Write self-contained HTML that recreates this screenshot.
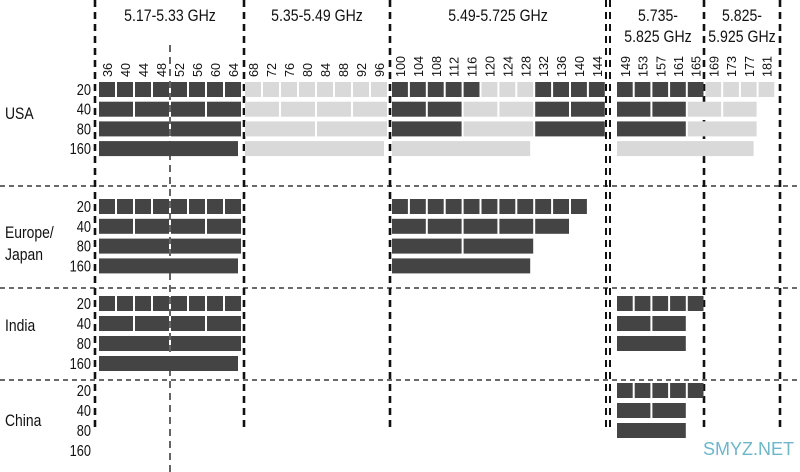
<!DOCTYPE html>
<html><head><meta charset="utf-8">
<style>
html,body{margin:0;padding:0;background:#fff;}
svg{display:block;font-family:"Liberation Sans",sans-serif;}
</style></head>
<body>
<svg id="chart" width="800" height="472" viewBox="0 0 800 472" xmlns="http://www.w3.org/2000/svg">
<g id="grid"></g>
<g id="titles" font-size="17" fill="#111" text-anchor="middle">
<g transform="translate(170,21) scale(0.83,1)"><text x="0" y="0">5.17-5.33 GHz</text></g>
<g transform="translate(317,21) scale(0.83,1)"><text x="0" y="0">5.35-5.49 GHz</text></g>
<g transform="translate(498,21) scale(0.83,1)"><text x="0" y="0">5.49-5.725 GHz</text></g>
<g transform="translate(658,21) scale(0.83,1)"><text x="0" y="0"><tspan x="0">5.735-</tspan><tspan x="0" dy="21">5.825 GHz</tspan></text></g>
<g transform="translate(742,21) scale(0.83,1)"><text x="0" y="0"><tspan x="0">5.825-</tspan><tspan x="0" dy="21">5.925 GHz</tspan></text></g>
</g>
<g id="chlabels"></g>
<g id="rows"></g>
<g id="cells"></g>
<text x="703" y="455" font-size="18" fill="#6fb6c9">SMYZ.NET</text>
</svg>
<script>
const channels=[36,40,44,48,52,56,60,64,68,72,76,80,84,88,92,96,100,104,108,112,116,120,124,128,132,136,140,144,149,153,157,161,165,169,173,177,181];
const regions=["USA","Europe/Japan","India","China"];
const widths=[20,40,80,160];
// blocks: [region, width, startChannel, numberOf20MHzChannels, licensed(1=dark,0=light)]
const blocksUSA=[
[0,20,36,1,1],[0,20,40,1,1],[0,20,44,1,1],[0,20,48,1,1],[0,20,52,1,1],[0,20,56,1,1],[0,20,60,1,1],[0,20,64,1,1],
[0,20,68,1,0],[0,20,72,1,0],[0,20,76,1,0],[0,20,80,1,0],[0,20,84,1,0],[0,20,88,1,0],[0,20,92,1,0],[0,20,96,1,0],
[0,20,100,1,1],[0,20,104,1,1],[0,20,108,1,1],[0,20,112,1,1],[0,20,116,1,1],[0,20,120,1,0],[0,20,124,1,0],[0,20,128,1,0],
[0,20,132,1,1],[0,20,136,1,1],[0,20,140,1,1],[0,20,144,1,1],
[0,20,149,1,1],[0,20,153,1,1],[0,20,157,1,1],[0,20,161,1,1],[0,20,165,1,1],[0,20,169,1,0],[0,20,173,1,0],[0,20,177,1,0],[0,20,181,1,0],
[0,40,36,2,1],[0,40,44,2,1],[0,40,52,2,1],[0,40,60,2,1],[0,40,68,2,0],[0,40,76,2,0],[0,40,84,2,0],[0,40,92,2,0],
[0,40,100,2,1],[0,40,108,2,1],[0,40,116,2,0],[0,40,124,2,0],[0,40,132,2,1],[0,40,140,2,1],[0,40,149,2,1],[0,40,157,2,1],[0,40,165,2,0],[0,40,173,2,0],
[0,80,36,4,1],[0,80,52,4,1],[0,80,68,4,0],[0,80,84,4,0],[0,80,100,4,1],[0,80,116,4,0],[0,80,132,4,1],[0,80,149,4,1],[0,80,165,4,0],
[0,160,36,8,1],[0,160,68,8,0],[0,160,100,8,0],[0,160,149,8,0]];
const blocksEU=[
[1,20,36,1,1],[1,20,40,1,1],[1,20,44,1,1],[1,20,48,1,1],[1,20,52,1,1],[1,20,56,1,1],[1,20,60,1,1],[1,20,64,1,1],
[1,20,100,1,1],[1,20,104,1,1],[1,20,108,1,1],[1,20,112,1,1],[1,20,116,1,1],[1,20,120,1,1],[1,20,124,1,1],[1,20,128,1,1],[1,20,132,1,1],[1,20,136,1,1],[1,20,140,1,1],
[1,40,36,2,1],[1,40,44,2,1],[1,40,52,2,1],[1,40,60,2,1],[1,40,100,2,1],[1,40,108,2,1],[1,40,116,2,1],[1,40,124,2,1],[1,40,132,2,1],
[1,80,36,4,1],[1,80,52,4,1],[1,80,100,4,1],[1,80,116,4,1],
[1,160,36,8,1],[1,160,100,8,1]];
const blocksIndia=[
[2,20,36,1,1],[2,20,40,1,1],[2,20,44,1,1],[2,20,48,1,1],[2,20,52,1,1],[2,20,56,1,1],[2,20,60,1,1],[2,20,64,1,1],
[2,20,149,1,1],[2,20,153,1,1],[2,20,157,1,1],[2,20,161,1,1],[2,20,165,1,1],
[2,40,36,2,1],[2,40,44,2,1],[2,40,52,2,1],[2,40,60,2,1],[2,40,149,2,1],[2,40,157,2,1],
[2,80,36,4,1],[2,80,52,4,1],[2,80,149,4,1],
[2,160,36,8,1]];
const blocksChina=[
[3,20,149,1,1],[3,20,153,1,1],[3,20,157,1,1],[3,20,161,1,1],[3,20,165,1,1],
[3,40,149,2,1],[3,40,157,2,1],[3,80,149,4,1]];

const NS="http://www.w3.org/2000/svg";
function mk(tag,attrs,parent){const e=document.createElementNS(NS,tag);for(const k in attrs)e.setAttribute(k,attrs[k]);parent.appendChild(e);return e;}
function chX(ch){
  if(ch<=64) return 99+(ch-36)/4*18;
  if(ch<=96) return 245+(ch-68)/4*18;
  if(ch<=144) return 392+(ch-100)/4*17.9;
  return 617+(ch-149)/4*17.7;
}
function pitch(ch){return ch<=96?18:(ch<=144?17.9:17.7);}
const regionTop=[82,199,296,383];
const rowPitch=[19.7,19.8,20,20];
function rowY(r,w){return regionTop[r]+widths.indexOf(w)*rowPitch[r];}

const grid=document.getElementById('grid');
[186,288,380].forEach(y=>{
  const l=mk('line',{x1:0,x2:800,y1:y,y2:y,stroke:'#111','stroke-width':1.3,'stroke-dasharray':'5 4'},grid);
  
  
});
[95,244,390,606,610,704,780].forEach(x=>{
  const l=mk('line',{x1:x,x2:x,y1:0,y2:428,stroke:'#111','stroke-width':(x==606||x==610)?2:2.6,'stroke-dasharray':'7 5'},grid);
  
  
});
const mid=mk('line',{x1:170,x2:170,y1:45,y2:472,stroke:'#111','stroke-width':1.3,'stroke-dasharray':'7 5'},grid);



const chl=document.getElementById('chlabels');
channels.forEach(ch=>{
  const cx=chX(ch)+pitch(ch)/2-1+5;
  const t=mk('text',{x:0,y:0,'font-size':14,fill:'#111','text-anchor':'start',transform:`translate(${cx},77) rotate(-90) scale(0.9,0.92)`},chl);
  t.textContent=ch;
  
  
});

const rows=document.getElementById('rows');
const regionLabelY=[[119],[238,260],[331],[426]];
const regionLabelText=[["USA"],["Europe/","Japan"],["India"],["China"]];
regions.forEach((r,i)=>{
  regionLabelText[i].forEach((s,j)=>{
    const t=mk('text',{x:0,y:0,'font-size':17,fill:'#111',transform:`translate(5,${regionLabelY[i][j]}) scale(0.82,1)`},rows);
    t.textContent=s;
    
    
  });
  widths.forEach(w=>{
    const t=mk('text',{x:0,y:0,'font-size':16,fill:'#111','text-anchor':'end',transform:`translate(91,${rowY(i,w)+13}) scale(0.8,1)`},rows);
    t.textContent=w;
    
    
  });
});

const cells=document.getElementById('cells');
[].concat(blocksUSA,blocksEU,blocksIndia,blocksChina).forEach(b=>{
  const [r,w,ch,n,dark]=b;
  const x=chX(ch);
  const p=pitch(ch);
  let wd=n*p-2; if(w===160) wd-=3;
  const rc=mk('rect',{x:x,y:rowY(r,w),width:wd,height:15,fill:dark?'#444444':'#d9d9d9'},cells);
  
  
});
</script>
</body></html>
